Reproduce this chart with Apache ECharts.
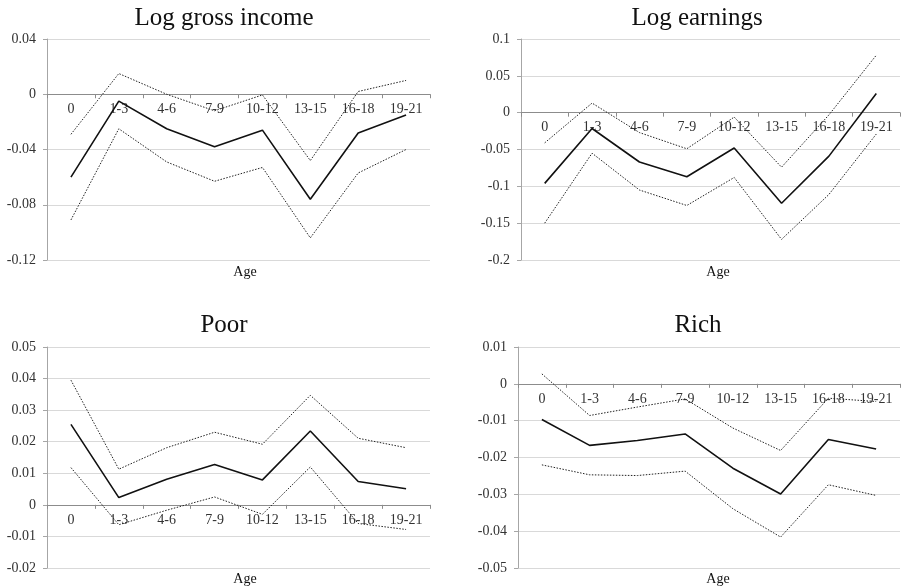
<!DOCTYPE html>
<html>
<head>
<meta charset="utf-8">
<script src="https://cdn.jsdelivr.net/npm/echarts@6/dist/echarts.min.js"></script>
<style>
  html, body { margin: 0; padding: 0; background: #ffffff; }
  #chart { width: 902px; height: 586px; }
</style>
</head>
<body>
<div id="chart"></div>
<script>
// Age groups on the horizontal axis
const ageGroups = ['0', '1-3', '4-6', '7-9', '10-12', '13-15', '16-18', '19-21'];

// Log gross income: estimate with lower / upper bounds
const grossEst = [-0.060, -0.005, -0.025, -0.038, -0.026, -0.076, -0.028, -0.015];
const grossUpper = [-0.029, 0.015, 0.000, -0.012, -0.0005, -0.048, 0.002, 0.010];
const grossLower = [-0.091, -0.025, -0.049, -0.063, -0.053, -0.104, -0.057, -0.040];

// Log earnings
const earnEst = [-0.096, -0.0215, -0.067, -0.087, -0.048, -0.123, -0.059, 0.026];
const earnUpper = [-0.041, 0.013, -0.027, -0.049, -0.006, -0.074, -0.003, 0.078];
const earnLower = [-0.150, -0.055, -0.105, -0.126, -0.088, -0.172, -0.111, -0.029];

// Poor
const poorEst = [0.0255, 0.0023, 0.0081, 0.0128, 0.0079, 0.0234, 0.0074, 0.0051];
const poorUpper = [0.0395, 0.0113, 0.0181, 0.0230, 0.0192, 0.0347, 0.0211, 0.0181];
const poorLower = [0.0118, -0.0063, -0.0017, 0.0025, -0.0030, 0.0120, -0.0059, -0.0078];

// Rich
const richEst = [-0.0097, -0.0167, -0.0154, -0.0136, -0.0229, -0.0299, -0.0151, -0.0177];
const richUpper = [0.0027, -0.0086, -0.0063, -0.0041, -0.0120, -0.0181, -0.0039, -0.0048];
const richLower = [-0.0220, -0.0247, -0.0249, -0.0237, -0.0339, -0.0416, -0.0274, -0.0303];

// Panel titles and y-axis ranges
const panelTitles = ['Log gross income', 'Log earnings', 'Poor', 'Rich'];
const yMin = [-0.12, -0.2, -0.02, -0.05];
const yMax = [0.04, 0.1, 0.05, 0.01];
const yStep = [0.04, 0.05, 0.01, 0.01];
const xName = 'Age';

const panels = [
  { est: grossEst, up: grossUpper, lo: grossLower },
  { est: earnEst, up: earnUpper, lo: earnLower },
  { est: poorEst, up: poorUpper, lo: poorLower },
  { est: richEst, up: richUpper, lo: richLower }
];

// Layout of the four plot areas
const gridBoxes = [
  { left: 47, top: 39, width: 383, height: 221 },
  { left: 521, top: 39, width: 379, height: 221 },
  { left: 47, top: 347, width: 383, height: 221 },
  { left: 518, top: 347, width: 382, height: 221 }
];
const titlePos = [[219, 1], [692, 1], [219, 308], [693, 308]];
const agePos = [[240, 260], [713, 260], [240, 567], [713, 567]];

const FONT = '"Liberation Serif", "Times New Roman", serif';

const titles = [];
panelTitles.forEach((t, i) => {
  titles.push({
    text: t, left: titlePos[i][0], top: titlePos[i][1], textAlign: 'center',
    textStyle: { fontFamily: FONT, fontSize: 25, fontWeight: 'normal', color: '#111' }
  });
  titles.push({
    text: xName, left: agePos[i][0], top: agePos[i][1], textAlign: 'center',
    textStyle: { fontFamily: FONT, fontSize: 14, fontWeight: 'normal', color: '#111' }
  });
});

const xAxes = [], yAxes = [], series = [];
panels.forEach((p, i) => {
  // the category axis sits on the zero line of its value axis
  const zeroFromBottom = gridBoxes[i].height * (0 - yMin[i]) / (yMax[i] - yMin[i]);
  xAxes.push({
    type: 'category', gridIndex: i, data: ageGroups, boundaryGap: true,
    position: 'bottom', offset: -zeroFromBottom,
    axisLine: { onZero: false, lineStyle: { color: '#8c8c8c', width: 1 } },
    axisTick: { show: true, length: 4, lineStyle: { color: '#8c8c8c' } },
    axisLabel: { margin: 8, fontFamily: FONT, fontSize: 14, color: '#333' },
    splitLine: { show: false }
  });
  yAxes.push({
    type: 'value', gridIndex: i, min: yMin[i], max: yMax[i], interval: yStep[i],
    axisLine: { show: true, lineStyle: { color: '#a6a6a6', width: 1 } },
    axisTick: { show: true, length: 4, lineStyle: { color: '#a6a6a6' } },
    axisLabel: { margin: 11, fontFamily: FONT, fontSize: 14, color: '#333' },
    splitLine: { show: true, lineStyle: { color: '#d9d9d9', width: 1 } }
  });
  const common = { type: 'line', xAxisIndex: i, yAxisIndex: i, symbol: 'none', silent: true, animation: false };
  series.push(Object.assign({}, common, {
    data: p.up, lineStyle: { color: '#222', width: 1, type: [1.5, 1.5] }
  }));
  series.push(Object.assign({}, common, {
    data: p.lo, lineStyle: { color: '#222', width: 1, type: [1.5, 1.5] }
  }));
  series.push(Object.assign({}, common, {
    data: p.est, lineStyle: { color: '#111', width: 1.6, type: 'solid' }
  }));
});

const chart = echarts.init(document.getElementById('chart'), null, { renderer: 'canvas' });
chart.setOption({
  backgroundColor: '#ffffff',
  animation: false,
  title: titles,
  grid: gridBoxes,
  xAxis: xAxes,
  yAxis: yAxes,
  series: series
});
</script>
</body>
</html>
